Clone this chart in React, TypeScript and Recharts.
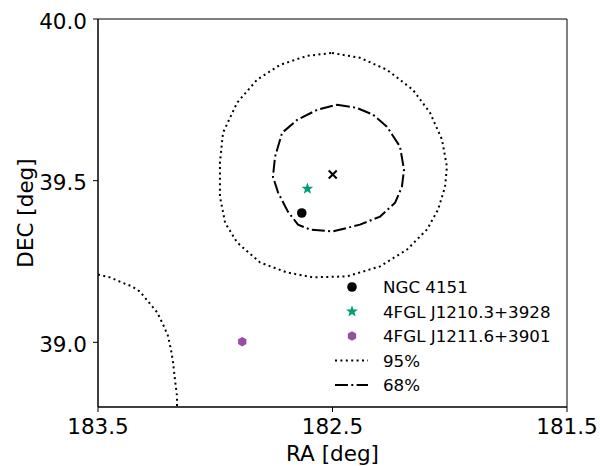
import React from 'react';
import { ScatterChart, Scatter, XAxis, YAxis, ReferenceArea, Legend } from 'recharts';

const FONT = '"DejaVu Sans", Verdana, sans-serif';

const raTicks = [183.5, 182.5, 181.5];
const decTicks = [39.0, 39.5, 40.0];
const raDomain = [181.5, 183.5];
const decDomain = [38.8, 40.0];

const ngc4151 = [{ ra: 182.631, dec: 39.4 }];
const fgl1210 = [{ ra: 182.607, dec: 39.475 }];
const fgl1211 = [{ ra: 182.885, dec: 39.002 }];
const bestFit = [{ ra: 182.499, dec: 39.519 }];

const contour95 = [
  { ra: 182.502, dec: 39.895 }, { ra: 182.383, dec: 39.88 }, { ra: 182.268, dec: 39.843 },
  { ra: 182.157, dec: 39.781 }, { ra: 182.084, dec: 39.71 }, { ra: 182.033, dec: 39.627 },
  { ra: 182.012, dec: 39.543 }, { ra: 182.02, dec: 39.481 }, { ra: 182.05, dec: 39.41 },
  { ra: 182.097, dec: 39.349 }, { ra: 182.182, dec: 39.287 }, { ra: 182.297, dec: 39.235 },
  { ra: 182.438, dec: 39.204 }, { ra: 182.583, dec: 39.201 }, { ra: 182.694, dec: 39.216 },
  { ra: 182.809, dec: 39.247 }, { ra: 182.907, dec: 39.309 }, { ra: 182.958, dec: 39.37 },
  { ra: 182.98, dec: 39.451 }, { ra: 182.98, dec: 39.556 }, { ra: 182.967, dec: 39.648 },
  { ra: 182.907, dec: 39.741 }, { ra: 182.822, dec: 39.812 }, { ra: 182.724, dec: 39.858 },
  { ra: 182.609, dec: 39.886 }, { ra: 182.502, dec: 39.895 },
];

const contour68 = [
  { ra: 182.481, dec: 39.735 }, { ra: 182.396, dec: 39.725 }, { ra: 182.327, dec: 39.704 },
  { ra: 182.268, dec: 39.667 }, { ra: 182.212, dec: 39.605 }, { ra: 182.195, dec: 39.534 },
  { ra: 182.204, dec: 39.481 }, { ra: 182.233, dec: 39.432 }, { ra: 182.297, dec: 39.389 },
  { ra: 182.383, dec: 39.364 }, { ra: 182.498, dec: 39.343 }, { ra: 182.596, dec: 39.349 },
  { ra: 182.647, dec: 39.364 }, { ra: 182.69, dec: 39.404 }, { ra: 182.732, dec: 39.463 },
  { ra: 182.754, dec: 39.512 }, { ra: 182.745, dec: 39.574 }, { ra: 182.715, dec: 39.648 },
  { ra: 182.651, dec: 39.688 }, { ra: 182.566, dec: 39.719 }, { ra: 182.481, dec: 39.735 },
];

const contour95Edge = [
  { ra: 183.5, dec: 39.21 }, { ra: 183.449, dec: 39.201 }, { ra: 183.398, dec: 39.185 },
  { ra: 183.355, dec: 39.173 }, { ra: 183.321, dec: 39.157 }, { ra: 183.287, dec: 39.127 },
  { ra: 183.248, dec: 39.093 }, { ra: 183.223, dec: 39.056 }, { ra: 183.201, dec: 39.019 },
  { ra: 183.189, dec: 38.978 }, { ra: 183.18, dec: 38.938 }, { ra: 183.172, dec: 38.886 },
  { ra: 183.163, dec: 38.833 }, { ra: 183.163, dec: 38.8 },
];

const legendLabels = ['NGC 4151', '4FGL J1210.3+3928', '4FGL J1211.6+3901', '95%', '68%'];

const GREEN = '#029e73';
const PURPLE = '#984ea3';
const DOTTED = '2 3.4';
const DASHDOT = '13 3.3 2 3.3';

const starPoints = (cx: number, cy: number, R: number, r: number) => {
  const pts: string[] = [];
  for (let i = 0; i < 10; i++) {
    const a = -Math.PI / 2 + (i * Math.PI) / 5;
    const rad = i % 2 === 0 ? R : r;
    pts.push(`${cx + rad * Math.cos(a)},${cy + rad * Math.sin(a)}`);
  }
  return pts.join(' ');
};
const hexPoints = (cx: number, cy: number, R: number) => {
  const pts: string[] = [];
  for (let i = 0; i < 6; i++) {
    const a = -Math.PI / 2 + (i * Math.PI) / 3;
    pts.push(`${cx + R * Math.cos(a)},${cy + R * Math.sin(a)}`);
  }
  return pts.join(' ');
};

const CircleShape = (p: any) => <circle cx={p.cx} cy={p.cy} r={4.8} fill="#000" />;
const StarShape = (p: any) => <polygon points={starPoints(p.cx, p.cy, 6.2, 2.6)} fill={GREEN} />;
const HexShape = (p: any) => <polygon points={hexPoints(p.cx, p.cy, 4.8)} fill={PURPLE} />;
const CrossShape = (p: any) => (
  <g stroke="#000" strokeWidth={2}>
    <line x1={p.cx - 4} y1={p.cy - 4} x2={p.cx + 4} y2={p.cy + 4} />
    <line x1={p.cx - 4} y1={p.cy + 4} x2={p.cx + 4} y2={p.cy - 4} />
  </g>
);
const NoShape = () => <g />;

const XTick = (p: any) => (
  <text x={p.x} y={p.y} dy="0.71em" textAnchor="middle" fontFamily={FONT} fontSize={21.5} fill="#000">
    {Number(p.payload.value).toFixed(1)}
  </text>
);
const YTick = (p: any) => (
  <text x={p.x} y={p.y + 2} dy="0.355em" textAnchor="end" fontFamily={FONT} fontSize={21.5} fill="#000">
    {Number(p.payload.value).toFixed(1)}
  </text>
);

const XLabel = (p: any) => {
  const vb = p.viewBox;
  return (
    <text x={vb.x + vb.width / 2} y={vb.y + 54} textAnchor="middle" fontFamily={FONT} fontSize={21.5} fill="#000">
      RA [deg]
    </text>
  );
};
const YLabel = (p: any) => {
  const vb = p.viewBox;
  const cy = vb.y + vb.height / 2;
  return (
    <text x={33} y={cy} textAnchor="middle" fontFamily={FONT} fontSize={21.5} fill="#000" transform={`rotate(-90, 33, ${cy})`}>
      DEC [deg]
    </text>
  );
};

const LegendBox = () => {
  const rowY = [17, 41.5, 66, 90.5, 115];
  const mx = 24;
  return (
    <svg width={260} height={130} style={{ display: 'block' }}>
      <circle cx={mx} cy={rowY[0]} r={4.8} fill="#000" />
      <polygon points={starPoints(mx, rowY[1], 6.2, 2.6)} fill={GREEN} />
      <polygon points={hexPoints(mx, rowY[2], 4.8)} fill={PURPLE} />
      <line x1={7} x2={40} y1={rowY[3]} y2={rowY[3]} stroke="#000" strokeWidth={2} strokeDasharray={DOTTED} />
      <line x1={7} x2={40} y1={rowY[4]} y2={rowY[4]} stroke="#000" strokeWidth={2} strokeDasharray={DASHDOT} />
      {legendLabels.map((t, i) => (
        <text key={t} x={55} y={rowY[i]} dy="0.36em" fontFamily={FONT} fontSize={16.7} fill="#000">
          {t}
        </text>
      ))}
    </svg>
  );
};

export default function App() {
  React.useLayoutEffect(() => {
    document.body.style.margin = '0';
    document.body.style.overflow = 'hidden';
  }, []);
  return (
    <div style={{ width: 600, height: 466 }}>
      <ScatterChart width={600} height={466} margin={{ top: 19, right: 33, bottom: 0, left: 0 }}>
        <XAxis
          type="number"
          dataKey="ra"
          domain={raDomain}
          ticks={raTicks}
          reversed
          allowDataOverflow
          height={59}
          tickSize={5}
          tickMargin={7}
          tick={<XTick />}
          stroke="#000"
          label={<XLabel />}
        />
        <YAxis
          type="number"
          dataKey="dec"
          domain={decDomain}
          ticks={decTicks}
          allowDataOverflow
          width={98}
          tickSize={5}
          tickMargin={6}
          tick={<YTick />}
          stroke="#000"
          label={<YLabel />}
        />
        <ReferenceArea x1={183.5} x2={181.5} y1={38.8} y2={40.0} fill="none" stroke="#000" strokeWidth={1} />
        <Scatter data={contour95} line={{ stroke: '#000', strokeWidth: 2, strokeDasharray: DOTTED }} shape={NoShape} isAnimationActive={false} fill="#000" />
        <Scatter data={contour95Edge} line={{ stroke: '#000', strokeWidth: 2, strokeDasharray: DOTTED }} shape={NoShape} isAnimationActive={false} fill="#000" />
        <Scatter data={contour68} line={{ stroke: '#000', strokeWidth: 2, strokeDasharray: DASHDOT }} shape={NoShape} isAnimationActive={false} fill="#000" />
        <Scatter data={ngc4151} shape={CircleShape} isAnimationActive={false} fill="#000" />
        <Scatter data={fgl1210} shape={StarShape} isAnimationActive={false} fill={GREEN} />
        <Scatter data={fgl1211} shape={HexShape} isAnimationActive={false} fill={PURPLE} />
        <Scatter data={bestFit} shape={CrossShape} isAnimationActive={false} fill="#000" />
        <Legend
          layout="horizontal"
          verticalAlign="middle"
          align="center"
          wrapperStyle={{ position: 'absolute', left: 328, top: 270, width: 260, height: 130 }}
          content={() => <LegendBox />}
        />
      </ScatterChart>
    </div>
  );
}
